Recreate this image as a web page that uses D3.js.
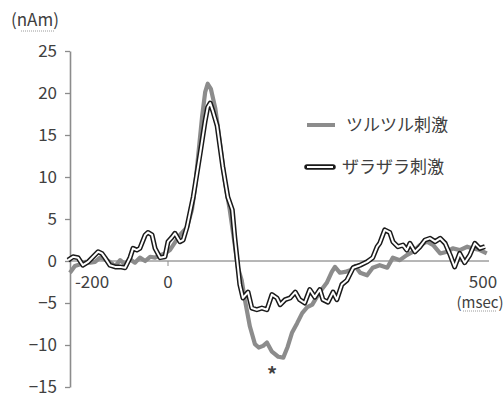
<!DOCTYPE html>
<html>
<head>
<meta charset="utf-8">
<script src="https://cdn.jsdelivr.net/npm/d3@7"></script>
<style>
  body { margin: 0; background: #fff; }
  text { font-family: "Noto Sans CJK JP", "Noto Sans", sans-serif; fill: #404040; }
</style>
</head>
<body>
<svg id="chart" width="503" height="394"></svg>
<script>
// ---- données ----
// temps (ms) et amplitude (nAm)
const tsuruTime = [-258,-245,-231,-218,-205,-192,-179,-166,-153,-139,-126,-113,-100,-87,-74,-60,-47,-34,-21,-8,
  3,19,30,38,43,48,54,59,63,68,75,83,90,98,106,111,117,122,130,138,144,151,157,165,175,183,190,197,205,213,221,229,
  236,244,252,260,265,273,281,289,297,305,316,325,336,348,357,368,379,389,400,411,421,432,443,452,463,475,484,495,506];
const tsuruValue = [-1.4,-0.6,-0.4,-0.1,-0.2,-0.1,0.4,0.2,-0.1,-0.6,0.1,-0.4,0.2,-0.2,0.4,0,0.5,0.4,0.7,0.9,
  1.3,3.1,4.0,6.1,8.8,12.6,17.1,20.1,21.1,20.5,18.2,13.8,9.6,6.1,1.9,-0.8,-2.3,-4.6,-7.8,-9.9,-10.3,-10.1,-9.7,-10.8,-11.4,-11.5,-10.2,-8.5,-7.4,-6.2,-5.5,-5.2,
  -4.3,-3.4,-2.6,-1.3,-0.7,-1.4,-1.3,-1.1,-0.6,-1.4,-1.7,-0.8,-0.5,-0.8,0.4,0.1,0.7,1.1,1.9,2.3,1.9,0.9,1.1,1.5,1.3,1.7,1.5,1.3,0.9];

const zaraTime = [-263,-250,-237,-224,-210,-197,-184,-174,-166,-153,-139,-126,-113,-100,-92,-82,-74,-60,-53,-42,-34,-21,-8,
  0,6,11,19,24,30,40,51,59,63,67,71,78,87,95,102,106,111,114,119,127,133,141,149,157,165,173,178,186,194,202,209,217,225,233,241,246,254,262,268,
  276,284,294,305,316,325,332,336,344,352,357,365,373,379,384,392,400,408,416,424,432,440,448,455,463,471,479,487,495,503];
const zaraValue = [0.1,0.5,0.4,-0.5,-0.1,0.5,1.1,0.9,0.4,-0.5,-0.7,-0.7,-0.8,0.4,1.5,1.3,1.5,3.1,3.4,3.1,1.5,0.4,0.5,
  2.3,2.8,3.3,2.3,2.5,4.0,7.6,12.8,16.7,18.3,18.8,17.9,16.1,11.2,7.6,6.1,2.8,-0.7,-2.8,-4.4,-3.7,-5.6,-5.8,-5.6,-5.8,-4.0,-4.4,-5.2,-4.6,-4.4,-3.7,-4.6,-5.0,-3.4,-4.3,-3.4,-4.6,-4.9,-3.7,-4.6,
  -2.8,-2.3,-0.8,-0.5,-0.1,0.4,1.7,2.1,3.7,3.4,2.3,1.7,1.9,1.3,2.1,1.1,1.7,2.5,2.7,2.3,2.7,2.1,0.7,-0.7,0.9,-0.2,0.7,2.1,1.5,1.7];

const yTicks = [25, 20, 15, 10, 5, 0, -5, -10, -15];
const xTicks = [-200, 0, 500];
const seriesNames = ["ツルツル刺激", "ザラザラ刺激"];

// ---- échelles ----
const svg = d3.select("#chart");
const x = d3.scaleLinear().domain([-200, 0, 500]).range([92, 168, 483]);
const y = d3.scaleLinear().domain([-15, 25]).range([387, 51]);
const xLeft = 70, xRight = 489;

// axe vertical
const yAxis = svg.append("g").attr("transform", `translate(${xLeft},0)`)
  .call(d3.axisLeft(y).tickValues(yTicks).tickSizeInner(5).tickSizeOuter(0).tickPadding(5));
yAxis.select(".domain").attr("stroke", "#8c8c8c").attr("stroke-width", 1.6);
yAxis.selectAll(".tick line").attr("stroke", "#8c8c8c").attr("stroke-width", 1.3);
yAxis.selectAll(".tick text").style("font-size", "17px").attr("fill", "#404040")
  .attr("dx", "-3").attr("dy", "0.3em");

// ligne du zéro (axe horizontal)
svg.append("line").attr("x1", xLeft).attr("x2", xRight)
  .attr("y1", y(0)).attr("y2", y(0)).attr("stroke", "#6e6e6e").attr("stroke-width", 1);
svg.append("line").attr("x1", x(0)).attr("x2", x(0))
  .attr("y1", y(0)).attr("y2", y(0) + 5).attr("stroke", "#8c8c8c").attr("stroke-width", 1);

svg.selectAll(".xlab").data(xTicks).enter().append("text")
  .attr("x", d => x(d)).attr("y", y(0) + 27)
  .attr("text-anchor", "middle").style("font-size", "17px")
  .text(d => d);

// unités
svg.append("text").attr("x", 11).attr("y", 26).style("font-size", "17px").text("(nAm)");
svg.append("line").attr("x1", 21).attr("x2", 54).attr("y1", 31).attr("y2", 31)
  .attr("stroke", "#9a9a9a").attr("stroke-width", 1).attr("stroke-dasharray", "1,1");
svg.append("text").attr("x", 480).attr("y", 308).attr("text-anchor", "middle")
  .style("font-size", "15px").text("(msec)");
svg.append("line").attr("x1", 463).attr("x2", 497).attr("y1", 311).attr("y2", 311)
  .attr("stroke", "#9a9a9a").attr("stroke-width", 1).attr("stroke-dasharray", "1,1");

// ---- courbes ----
const line = d3.line().x(d => x(d[0])).y(d => y(d[1]));
const tsuru = tsuruTime.map((t, i) => [t, tsuruValue[i]]);
const zara = zaraTime.map((t, i) => [t, zaraValue[i]]);

svg.append("path").datum(tsuru).attr("d", line)
  .attr("fill", "none").attr("stroke", "#8c8c8c").attr("stroke-width", 4.2).attr("stroke-linejoin", "round");
svg.append("path").datum(zara).attr("d", line)
  .attr("fill", "none").attr("stroke", "#1a1a1a").attr("stroke-width", 5).attr("stroke-linejoin", "round");
svg.append("path").datum(zara).attr("d", line)
  .attr("fill", "none").attr("stroke", "#fff").attr("stroke-width", 2).attr("stroke-linejoin", "round");

// astérisque
svg.append("text").attr("x", 272).attr("y", 382).attr("text-anchor", "middle")
  .style("font-size", "20px").style("font-weight", "bold").attr("fill", "#222").text("*");

// ---- légende ----
svg.append("line").attr("x1", 307).attr("x2", 335).attr("y1", 125).attr("y2", 125)
  .attr("stroke", "#8c8c8c").attr("stroke-width", 4);
svg.append("text").attr("x", 346).attr("y", 131).style("font-size", "17px").text(seriesNames[0]);

svg.append("line").attr("x1", 307).attr("x2", 333).attr("y1", 167).attr("y2", 167)
  .attr("stroke", "#1a1a1a").attr("stroke-width", 5.5).attr("stroke-linecap", "round");
svg.append("line").attr("x1", 307).attr("x2", 333).attr("y1", 167).attr("y2", 167)
  .attr("stroke", "#fff").attr("stroke-width", 2);
svg.append("text").attr("x", 342).attr("y", 173).style("font-size", "17px").text(seriesNames[1]);
</script>
</body>
</html>
